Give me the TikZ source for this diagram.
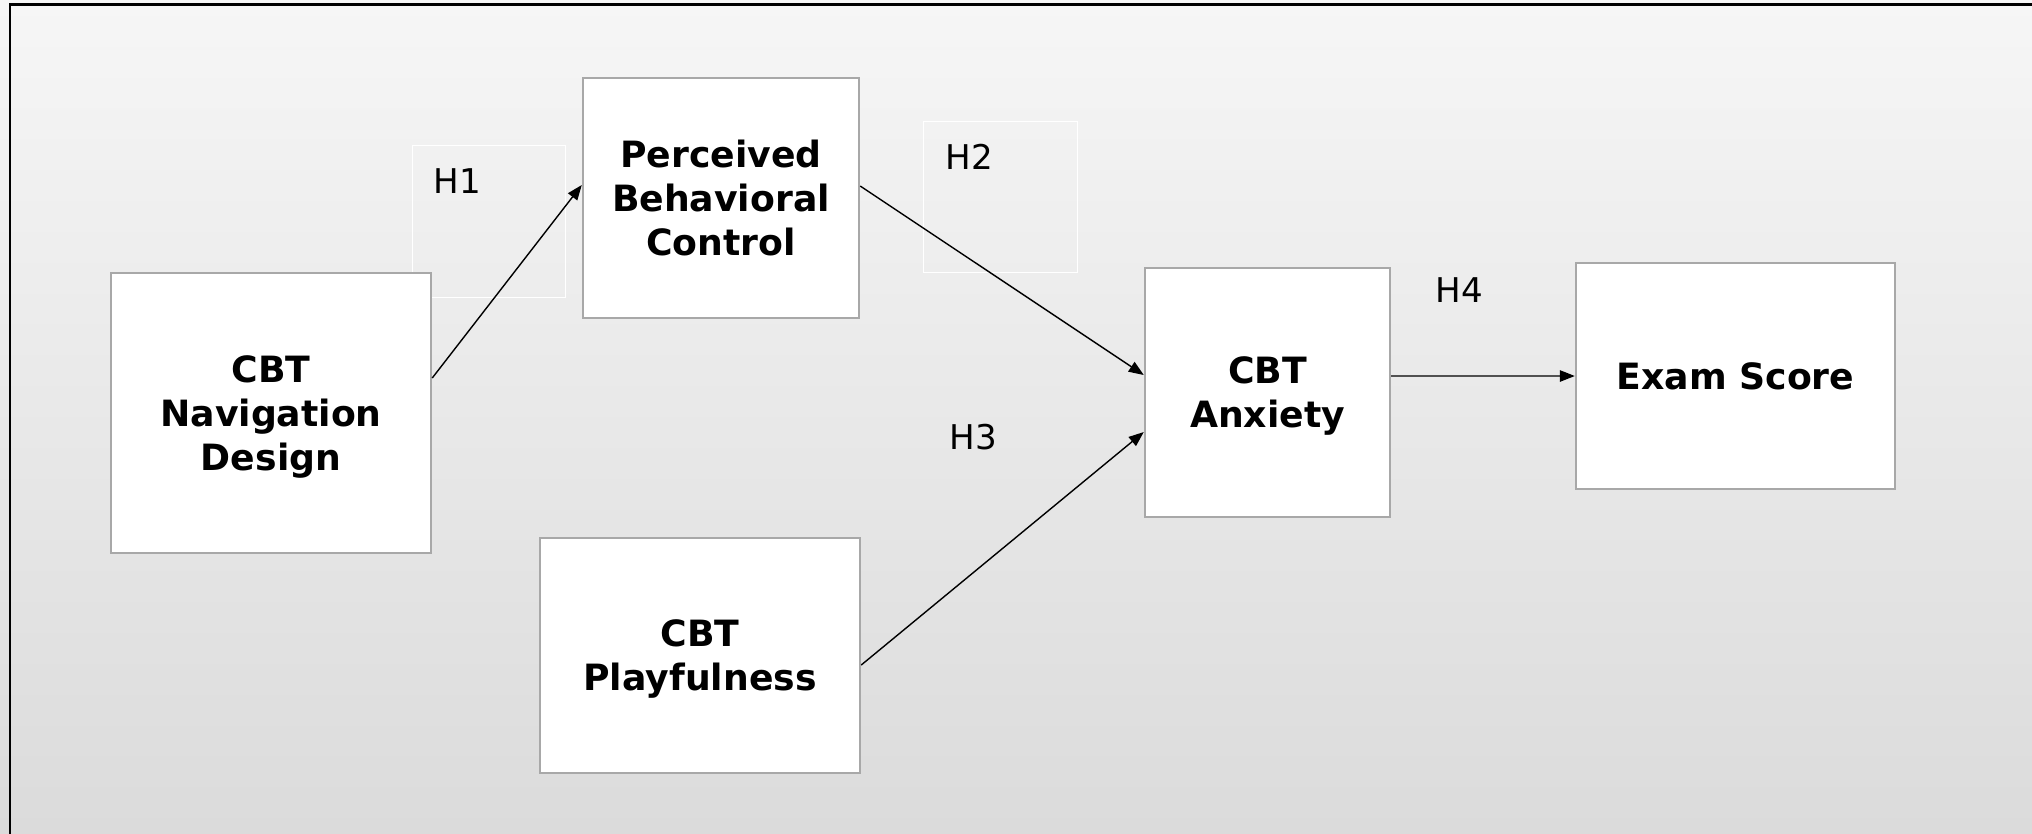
\documentclass[tikz,border=0pt]{standalone}
\usepackage{fontspec}
\setmainfont{DejaVu Sans}
\usepackage{tikz}
\usetikzlibrary{arrows.meta}
\definecolor{bgtop}{RGB}{246,246,246}
\definecolor{bgbottom}{RGB}{219,219,219}
\definecolor{boxgray}{RGB}{168,168,168}
\tikzset{
    varbox/.style={draw=boxgray, line width=0.7pt, fill=white, align=center, inner sep=0pt,
        text depth=0pt, font=\fontsize{10.3pt}{12.5pt}\selectfont\bfseries},
    hypbox/.style={draw=white, line width=0.4pt, anchor=north west, inner sep=0pt},
    hyplabel/.style={anchor=base west, inner sep=0pt, font=\fontsize{9.7pt}{11pt}\selectfont},
    path/.style={line width=0.4pt, -{Triangle[length=1.5mm, width=1.15mm]}}
}
\begin{document}
\begin{tikzpicture}
    \useasboundingbox (0, 0) rectangle (20.32, -8.33);
    \shade[top color=bgtop, bottom color=bgbottom] (0, 0) rectangle (20.32, -8.33);
    \draw[line width=0.85pt] (0.10, -8.40) -- (0.10, -0.04) -- (20.40, -0.04);
    \node[hypbox, minimum width=1.53cm, minimum height=1.52cm] (h1box) at (4.12, -1.45) {};
    \node[hypbox, minimum width=1.54cm, minimum height=1.51cm] (h2box) at (9.23, -1.21) {};
    \node[varbox, minimum width=3.20cm, minimum height=2.80cm] (nav) at (2.71, -4.13) {CBT\\Navigation\\Design};
    \node[varbox, minimum width=2.76cm, minimum height=2.40cm] (pbc) at (7.21, -1.98) {Perceived\\Behavioral\\Control};
    \node[varbox, minimum width=3.20cm, minimum height=2.35cm] (play) at (7.00, -6.555) {CBT\\Playfulness};
    \node[varbox, minimum width=2.45cm, minimum height=2.49cm] (anx) at (12.675, -3.925) {CBT\\Anxiety};
    \node[varbox, minimum width=3.19cm, minimum height=2.26cm] (exam) at (17.355, -3.76) {Exam Score};
    \node[hyplabel] (h1) at (4.33, -1.93) {H1};
    \node[hyplabel] (h2) at (9.45, -1.69) {H2};
    \node[hyplabel] (h3) at (9.49, -4.49) {H3};
    \node[hyplabel] (h4) at (14.35, -3.02) {H4};
    \draw[path] ([yshift=3.5mm]nav.east) -- ([yshift=1.3mm]pbc.west);
    \draw[path] ([yshift=1.2mm]pbc.east) -- ([yshift=1.75mm]anx.west);
    \draw[path] ([yshift=-0.95mm]play.east) -- ([yshift=-3.95mm]anx.west);
    \draw[path] ([yshift=1.65mm]anx.east) -- (exam.west);
\end{tikzpicture}
\end{document}
